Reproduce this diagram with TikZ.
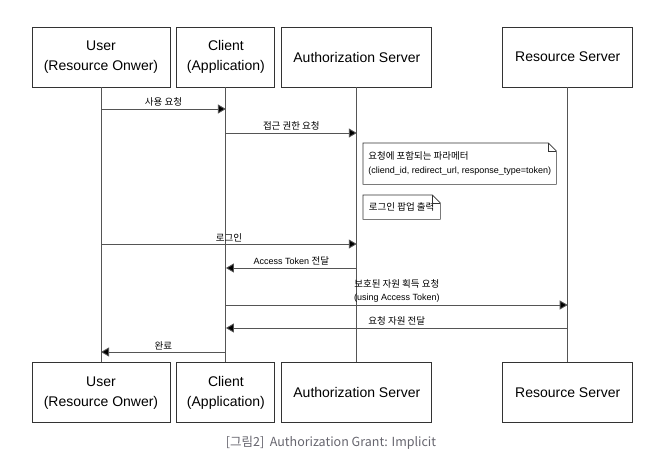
\documentclass[tikz,border=0pt]{standalone}
\usepackage{fontspec}
\setmainfont{Liberation Sans}
\newfontfamily\kr{Noto Sans CJK KR}
\usepackage{tikz}
\usetikzlibrary{positioning, arrows.meta, calc}

\definecolor{linegray}{HTML}{555555}
\definecolor{boxgray}{HTML}{333333}
\definecolor{capgray}{HTML}{66656E}

\begin{document}
\begin{tikzpicture}[x=1pt, y=-1pt,
    actor/.style={rectangle, draw=boxgray, line width=0.9pt, minimum height=60pt, align=center, font=\fontsize{14}{20}\selectfont, inner sep=0pt},
    msg/.style={draw=linegray, line width=0.9pt, -{Triangle[length=8pt, width=9pt, fill=black]}},
    msglabel/.style={midway, above, inner sep=2pt, font=\kr\fontsize{9.5}{12}\selectfont},
    notebox/.style={align=left, anchor=north west, inner xsep=3pt, inner ysep=4pt, font=\fontsize{9}{14}\selectfont},
    life/.style={draw=linegray, line width=0.9pt}
]
\useasboundingbox (0,0) rectangle (671,471);

% top row
\node[actor, minimum width=138pt](u1) at (101,57){User\\(Resource Onwer)};
\node[actor, minimum width=98pt](c1)[right = 6pt of u1]{Client\\(Application)};
\node[actor, minimum width=150pt](a1)[right = 6pt of c1]{Authorization Server};
\node[actor, minimum width=130pt](r1)[right = 70pt of a1]{Resource Server};

% bottom row
\node[actor, minimum width=138pt](u2)[below = 275pt of u1]{User\\(Resource Onwer)};
\node[actor, minimum width=98pt](c2)[below = 275pt of c1]{Client\\(Application)};
\node[actor, minimum width=150pt](a2)[below = 275pt of a1]{Authorization Server};
\node[actor, minimum width=130pt](r2)[below = 275pt of r1]{Resource Server};

% lifelines
\draw[life] (u1) -- (u2);
\draw[life] (c1) -- (c2);
\draw[life] (a1) -- (a2);
\draw[life] (r1) -- (r2);

% messages
\draw[msg] (u1.south |- 0,109) -- (c1.south |- 0,109) node[msglabel]{사용 요청};
\draw[msg] (c1.south |- 0,133) -- (a1.south |- 0,133) node[msglabel]{접근 권한 요청};
\draw[msg] (u1.south |- 0,244) -- (a1.south |- 0,244) node[msglabel]{로그인};
\draw[msg] (a1.south |- 0,268) -- (c1.south |- 0,268) node[msglabel]{\rmfamily\fontsize{9}{12}\selectfont Access Token {\kr\fontsize{9.5}{12}\selectfont 전달}};
\draw[msg] (c1.south |- 0,305) -- (r1.south |- 0,305) node[midway, above, inner sep=2pt, align=center, font=\fontsize{9}{13}\selectfont]{{\kr\fontsize{9.5}{13}\selectfont 보호된 자원 획득 요청}\\(using Access Token)};
\draw[msg] (r1.south |- 0,328) -- (c1.south |- 0,328) node[msglabel]{요청 자원 전달};
\draw[msg] (c1.south |- 0,352) -- (u1.south |- 0,352) node[msglabel]{완료};

% notes
\node[notebox, minimum width=193pt, minimum height=41pt](n1) at (363,143){{\kr\fontsize{9.5}{14}\selectfont 요청에 포함되는 파라메터}\\(cliend\_id, redirect\_url, response\_type=token)};
\draw[boxgray, line width=0.6pt] (n1.north west) -- ($(n1.north east)+(-8,0)$) -- ($(n1.north east)+(0,8)$) -- (n1.south east) -- (n1.south west) -- cycle;
\draw[boxgray, line width=0.6pt] ($(n1.north east)+(-8,0)$) -- ($(n1.north east)+(-8,8)$) -- ($(n1.north east)+(0,8)$);

\node[notebox, minimum width=77pt, minimum height=24pt, font=\kr\fontsize{9.5}{12}\selectfont](n2) at (363,195){로그인 팝업 출력};
\draw[boxgray, line width=0.6pt] (n2.north west) -- ($(n2.north east)+(-8,0)$) -- ($(n2.north east)+(0,8)$) -- (n2.south east) -- (n2.south west) -- cycle;
\draw[boxgray, line width=0.6pt] ($(n2.north east)+(-8,0)$) -- ($(n2.north east)+(-8,8)$) -- ($(n2.north east)+(0,8)$);

% caption
\node[font=\kr\fontsize{12.5}{14}\selectfont, text=capgray](cap) at (331,443){[그림2]\ \ Authorization Grant: Implicit};
\end{tikzpicture}
\end{document}
